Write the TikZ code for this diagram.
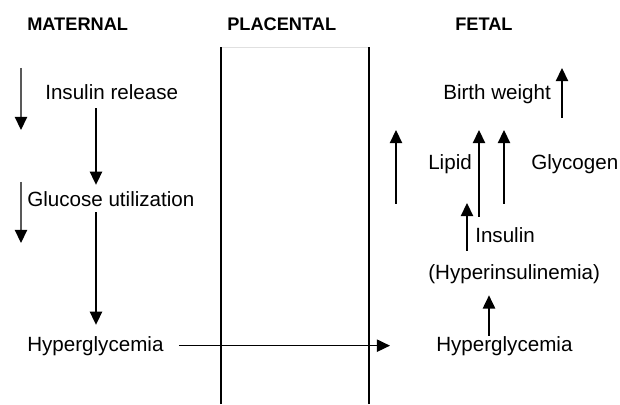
\documentclass[tikz,border=0pt]{standalone}
\usepackage{fontspec}
\setmainfont{Liberation Sans}
\usetikzlibrary{arrows.meta}
\tikzset{
  lbl/.style={anchor=base west, inner sep=0pt, font=\fontsize{14.65}{17}\selectfont},
  hdr/.style={anchor=base west, inner sep=0pt, font=\bfseries\fontsize{12.95}{15}\selectfont},
  arr/.style={line width=0.9pt, -{Triangle[length=0.33cm,width=0.31cm]}},
  drop/.style={line width=0.9pt, draw=black!65, -{Triangle[length=0.33cm,width=0.31cm,color=black]}},
  wall/.style={line width=1.4pt}
}
\begin{document}
\begin{tikzpicture}
\useasboundingbox (0,0) rectangle (15.5,10.1);

% placental compartment
\draw[black!12] (5.525,8.925) -- (9.225,8.925);
\draw[wall] (5.525,0) -- (5.525,8.925);
\draw[wall] (9.225,0) -- (9.225,8.925);

\node[hdr] (hmat) at (0.675,9.325) {MATERNAL};
\node[hdr] (hpla) at (5.675,9.325) {PLACENTAL};
\node[hdr] (hfet) at (11.375,9.325) {FETAL};

% maternal side
\node[lbl] (release) at (1.125,7.6) {Insulin release};
\node[lbl] (glucose) at (0.675,4.925) {Glucose utilization};
\node[lbl] (hypm) at (0.675,1.325) {Hyperglycemia};

\foreach \ya/\yb in {8.4/6.85, 5.55/4.025}
  \draw[drop] (0.525,\ya) -- (0.525,\yb);

\coordinate (mx) at (2.4,0);
\draw[arr, shorten <=0.2cm, shorten >=0.175cm] (release.south -| mx) -- (glucose.north -| mx);
\draw[arr, shorten <=0.125cm, shorten >=0.275cm] (glucose.south -| mx) -- (hypm.north -| mx);

% fetal side
\node[lbl] (hypf) at (10.9,1.325) {Hyperglycemia};
\node[lbl] (hyperins) at (10.7,3.1) {(Hyperinsulinemia)};
\node[lbl] (insulin) at (11.875,4.025) {Insulin};
\node[lbl] (lipid) at (10.7,5.85) {Lipid};
\node[lbl] (glycogen) at (13.275,5.85) {Glycogen};
\node[lbl] (birth) at (11.075,7.6) {Birth weight};

\draw[arr, shorten <=0.375cm, shorten >=1.15cm] (hypm.east) -- (hypf.west);

\coordinate (ex) at (12.225,0);
\draw[arr, shorten >=0.27cm] (hypf.north -| ex) -- (hyperins.south -| ex);

\foreach \x/\ya/\yb in {9.9/5.0/6.85, 11.975/4.675/6.85, 12.6/5.0/6.85,
                        11.675/3.825/5.025, 14.05/7.15/8.4}
  \draw[arr] (\x,\ya) -- (\x,\yb);

\end{tikzpicture}
\end{document}
